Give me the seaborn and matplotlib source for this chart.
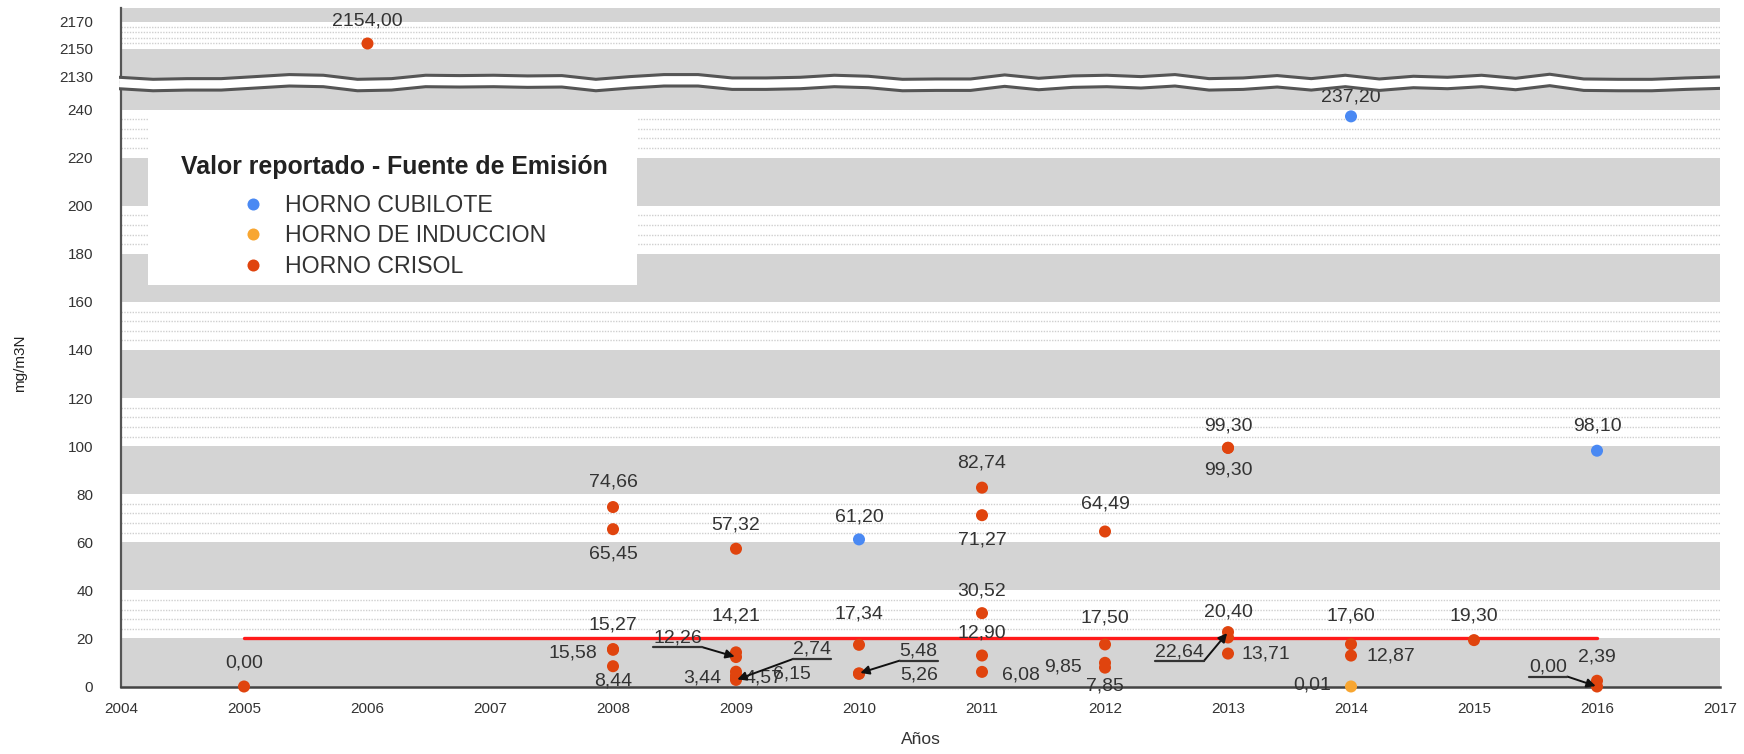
import numpy as np
import pandas as pd
import matplotlib
matplotlib.use("Agg")
import matplotlib.pyplot as plt
import seaborn as sns
from matplotlib.lines import Line2D
from matplotlib.patches import Rectangle
from matplotlib.transforms import IdentityTransform

# Valores (mg/m3N por año y fuente de emision)
anios = [2005, 2006, 2008, 2008, 2008, 2008, 2008, 2009, 2009, 2009,
         2009, 2009, 2009, 2009, 2010, 2010, 2010, 2010, 2011, 2011,
         2011, 2011, 2011, 2012, 2012, 2012, 2012, 2013, 2013, 2013,
         2013, 2013, 2014, 2014, 2014, 2014, 2015, 2016, 2016, 2016]
valores = [0.00, 2154.00, 74.66, 65.45, 15.27, 15.58, 8.44, 57.32, 14.21, 12.26,
           3.44, 4.57, 6.15, 2.74, 61.20, 17.34, 5.48, 5.26, 82.74, 71.27,
           30.52, 12.90, 6.08, 64.49, 17.50, 9.85, 7.85, 99.30, 99.30, 20.40,
           22.64, 13.71, 237.20, 17.60, 12.87, 0.01, 19.30, 2.39, 0.00, 98.10]
CUB, IND, CRI = "HORNO CUBILOTE", "HORNO DE INDUCCION", "HORNO CRISOL"
fuentes = [CRI, CRI, CRI, CRI, CRI, CRI, CRI, CRI, CRI, CRI,
           CRI, CRI, CRI, CRI, CUB, CRI, CRI, CRI, CRI, CRI,
           CRI, CRI, CRI, CRI, CRI, CRI, CRI, CRI, CRI, CRI,
           CRI, CRI, CUB, CRI, CRI, IND, CRI, CRI, CRI, CUB]

series = [CUB, IND, CRI]
colores = ["#4a89f3", "#f8a631", "#e0440e"]
limite = 20.0
limite_desde, limite_hasta = 2005, 2016
x_ticks = list(range(2004, 2018))
y_ticks_bajo = list(range(0, 241, 20))
y_ticks_alto = [2130, 2150, 2170]

# desplazamiento de cada etiqueta (puntos) y si lleva flecha
label_dx = [0, 0, 0, 0, 0, -29, 0, 0, 0, -42,
            -24, 20, 40, 55, 0, 0, 43, 43, 0, 0,
            0, 0, 28, 0, 0, -30, 0, 0, 0, 0,
            -35, 27, 0, 0, 29, -28, 0, 0, -35, 0]
label_dy = [17, 16, 18, -18, 18, -3, -11, 17, 26, 14,
            0, -2, -2, 22, 16, 22, 16, -1, 18, -18,
            16, 16, -2, 20, 19, -3, -13, 16, -16, 18,
            -14, 0, 14, 20, 0, 1, 17, 17, 14, 18]
con_flecha = [9, 13, 16, 30, 38]

df = pd.DataFrame({"Año": anios, "Valor": valores, "Fuente": fuentes})
paleta = dict(zip(series, colores))

sns.set_style("white")
plt.rcParams["font.family"] = ["Liberation Sans", "DejaVu Sans"]

W, H = 1744, 754
fig = plt.figure(figsize=(W / 100, H / 100), dpi=100)
left, right = 121, 1720
y_break, y_top, y_bottom = 82, 8, 686.5
ax = fig.add_axes([left / W, (H - y_bottom) / H, (right - left) / W, (y_bottom - y_break) / H])
ax_hi = fig.add_axes([left / W, (H - y_break) / H, (right - left) / W, (y_break - y_top) / H])

GRIS = "#d4d4d4"
PUNTEADO = "#cfcfcf"

# bandas del fondo
ax.set_ylim(0, 251.5)
ax_hi.set_ylim(2125.6, 2180)
for k in range(13):
    b = 20 * k
    if k % 2 == 0:
        ax.axhspan(b, b + 20, color=GRIS, lw=0, zorder=0)
    else:
        for d in (4, 8, 12, 16):
            ax.axhline(b + d, color=PUNTEADO, lw=1, ls=(0, (1, 1)), zorder=0)
ax_hi.axhspan(2120, 2150, color=GRIS, lw=0, zorder=0)
ax_hi.axhspan(2170, 2190, color=GRIS, lw=0, zorder=0)
for d in (4, 8, 12, 16):
    ax_hi.axhline(2150 + d, color=PUNTEADO, lw=1, ls=(0, (1, 1)), zorder=0)

# limite normativo
ax.plot([limite_desde, limite_hasta], [limite, limite], color="#ff1a1a", lw=2.4, zorder=2)

bajo = df[df["Valor"] < 1000]
alto = df[df["Valor"] >= 1000]
sns.scatterplot(data=bajo, x="Año", y="Valor", hue="Fuente", hue_order=series,
                palette=paleta, s=75, linewidth=0, ax=ax, zorder=3, clip_on=False)
sns.scatterplot(data=alto, x="Año", y="Valor", hue="Fuente", hue_order=series,
                palette=paleta, s=75, linewidth=0, ax=ax_hi, zorder=3, legend=False)

for a in (ax, ax_hi):
    a.set_xlim(2004, 2017)
    a.spines[["top", "right"]].set_visible(False)
    a.spines["left"].set_color("#555555")
    a.spines["left"].set_linewidth(1.6)
    a.tick_params(axis="y", length=16, width=1.8, color="#555555",
                  labelsize=11, labelcolor="#333333", pad=4)
    a.set_xlabel("")
    a.set_ylabel("")
ax_hi.spines["bottom"].set_visible(False)
ax_hi.set_xticks([])
ax_hi.set_yticks(y_ticks_alto)
ax.set_yticks(y_ticks_bajo)
ax.set_xticks(x_ticks)
ax.spines["bottom"].set_color("#444444")
ax.spines["bottom"].set_linewidth(1.8)
ax.tick_params(axis="x", length=7, width=1.2, color="#555555",
               labelsize=11, labelcolor="#333333", pad=4)
ax.set_xlabel("Años", fontsize=12.5, color="#333333", labelpad=12)
ax.set_ylabel("mg/m3N", fontsize=11, color="#222222")
ax.yaxis.set_label_coords(-0.059, 0.535)

# leyenda (recuadro blanco propio + leyenda sin marco)
ax.add_patch(Rectangle((0.0166, 0.664), 0.3063, 0.281, transform=ax.transAxes,
                       facecolor="white", edgecolor="none", zorder=5))
handles, labels = ax.get_legend_handles_labels()
leg = ax.legend(handles, labels, title="Valor reportado - Fuente de Emisión",
                loc="upper center", bbox_to_anchor=(0.1708, 0.880), frameon=False,
                fontsize=16.7, title_fontproperties={"weight": "bold", "size": 17.9},
                borderpad=0, labelspacing=0.32, handlelength=1.0, handletextpad=0.87,
                markerscale=1.0, borderaxespad=0)
leg._legend_box.sep = 11
for t in leg.get_texts():
    t.set_color("#333333")
leg.get_title().set_color("#222222")
leg.set_zorder(6)

# etiquetas de valores
etiquetas = []
for i, (x, v) in enumerate(zip(anios, valores)):
    a = ax_hi if v >= 1000 else ax
    txt = f"{v:.2f}".replace(".", ",")
    t = a.annotate(txt, xy=(x, v), xytext=(label_dx[i], label_dy[i]),
                   textcoords="offset points", ha="center", va="center",
                   fontsize=14, color="#333333", zorder=5, annotation_clip=False)
    etiquetas.append(t)

fig.canvas.draw()
renderer = fig.canvas.get_renderer()
for i in con_flecha:
    bb = etiquetas[i].get_window_extent(renderer)
    yl = bb.y0 - 1
    fig.add_artist(Line2D([bb.x0, bb.x1], [yl, yl], color="#333333", lw=1.6,
                          transform=IdentityTransform(), zorder=5))
    px, py = ax.transData.transform((anios[i], valores[i]))
    xe = bb.x1 if px > bb.x1 else bb.x0
    ax.annotate("", xy=(anios[i], valores[i]), xytext=(xe, yl), textcoords="figure pixels",
                arrowprops=dict(arrowstyle="-|>", color="#111111", lw=1.4,
                                shrinkA=0, shrinkB=1, mutation_scale=13),
                annotation_clip=False, zorder=5)

# linea de corte del eje
onda = [0, -0.6, -0.4, -0.4, 0.2, 0.8, 0.6, -0.6, -0.4, 0.6, 0.5, 0.6, 0.4, 0.5,
        -0.6, 0.2, 0.8, 0.8, -0.2, -0.2, 0.0, 0.6, 0.3, -0.6, -0.5, -0.5, 0.7, -0.3,
        0.4, 0.6, 0.2, 0.8, -0.4, -0.2, 0.5, -0.4, 0.6, -0.5, 0.3, 0.0, 0.6, -0.3,
        0.9, -0.5, -0.6, -0.6, -0.2, 0.1]
wav = fig.add_axes([(left - 2) / W, (H - 96) / H, (right - left + 2) / W, 26 / H])
wav.set_xlim(0, 1)
wav.set_ylim(0, 1)
wav.axis("off")
xs = np.linspace(0, 1, len(onda))
arriba = 0.72 + np.array(onda) * 0.13
abajo = arriba - 0.44
wav.fill_between(xs, abajo, arriba, color="white", lw=0, zorder=1)
wav.plot(xs, arriba, color="#555555", lw=2.2, zorder=2)
wav.plot(xs, abajo, color="#555555", lw=2.2, zorder=2)

fig.savefig("out.png", dpi=100)
